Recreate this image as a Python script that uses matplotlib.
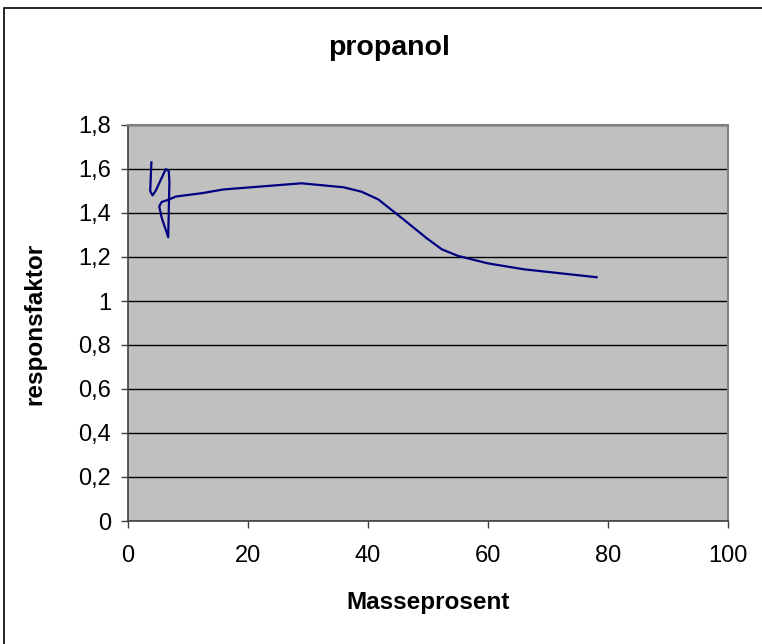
import matplotlib
matplotlib.use("Agg")
import matplotlib.pyplot as plt
from matplotlib.ticker import FuncFormatter
from matplotlib.patches import Rectangle

masseprosent = [3.9, 3.7, 4.1, 4.6, 6.3, 6.8, 6.9, 6.7, 5.6, 5.2, 5.6, 6.7, 8.0,
                12.3, 15.9, 28.9, 35.9, 38.9, 41.7, 45.5, 49.8, 52.3, 55.0, 60.0,
                66.0, 78.1]
responsfaktor = [1.63, 1.50, 1.48, 1.50, 1.60, 1.59, 1.54, 1.29, 1.38, 1.43, 1.45,
                 1.46, 1.475, 1.49, 1.507, 1.535, 1.517, 1.497, 1.462, 1.38, 1.285,
                 1.235, 1.205, 1.171, 1.144, 1.108]
x_ticks = [0, 20, 40, 60, 80, 100]
y_ticks = [0, 0.2, 0.4, 0.6, 0.8, 1.0, 1.2, 1.4, 1.6, 1.8]

plt.rcParams['font.family'] = ['Liberation Sans', 'DejaVu Sans']

W, H = 762, 644
fig = plt.figure(figsize=(W / 100, H / 100), dpi=100)
fig.patch.set_facecolor('white')

# outer border
fig.patches.append(Rectangle((4 / W, 0 - 0.01), 1.05, (H - 8) / H + 0.01,
                             transform=fig.transFigure, fill=False,
                             edgecolor='black', linewidth=1.2))

left, right, top, bottom = 128, 728, 125, 521
ax = fig.add_axes([left / W, (H - bottom) / H, (right - left) / W, (bottom - top) / H])
ax.set_facecolor('#C0C0C0')

ax.plot(masseprosent, responsfaktor, color='#000080', linewidth=1.6)

ax.set_xlim(0, 100)
ax.set_ylim(0, 1.8)
ax.set_xticks(x_ticks)
ax.set_yticks(y_ticks)
ax.yaxis.grid(True, color='black', linewidth=1.0)
ax.set_axisbelow(True)

fmt = FuncFormatter(lambda v, p: ('%g' % round(v, 1)).replace('.', ','))
ax.yaxis.set_major_formatter(fmt)
ax.xaxis.set_major_formatter(FuncFormatter(lambda v, p: '%d' % v))

ax.tick_params(axis='both', labelsize=17, direction='out', length=5, width=1,
               color='#404040')
ax.tick_params(axis='y', pad=7)
ax.tick_params(axis='x', pad=12)

for s in ['left', 'bottom']:
    ax.spines[s].set_color('#404040')
    ax.spines[s].set_linewidth(1.2)
for s in ['top', 'right']:
    ax.spines[s].set_color('#808080')
    ax.spines[s].set_linewidth(1.5)

fig.text(389 / W, 1 - 48 / H, 'propanol', ha='center', va='center',
         fontsize=20.5, fontweight='bold')
fig.text((left + right) / 2 / W, 1 - 603 / H, 'Masseprosent', ha='center', va='center',
         fontsize=17.5, fontweight='bold')
fig.text(35 / W, 1 - 324 / H, 'responsfaktor', ha='center', va='center',
         fontsize=17.5, fontweight='bold', rotation=90)

fig.savefig('out.png', dpi=100)
